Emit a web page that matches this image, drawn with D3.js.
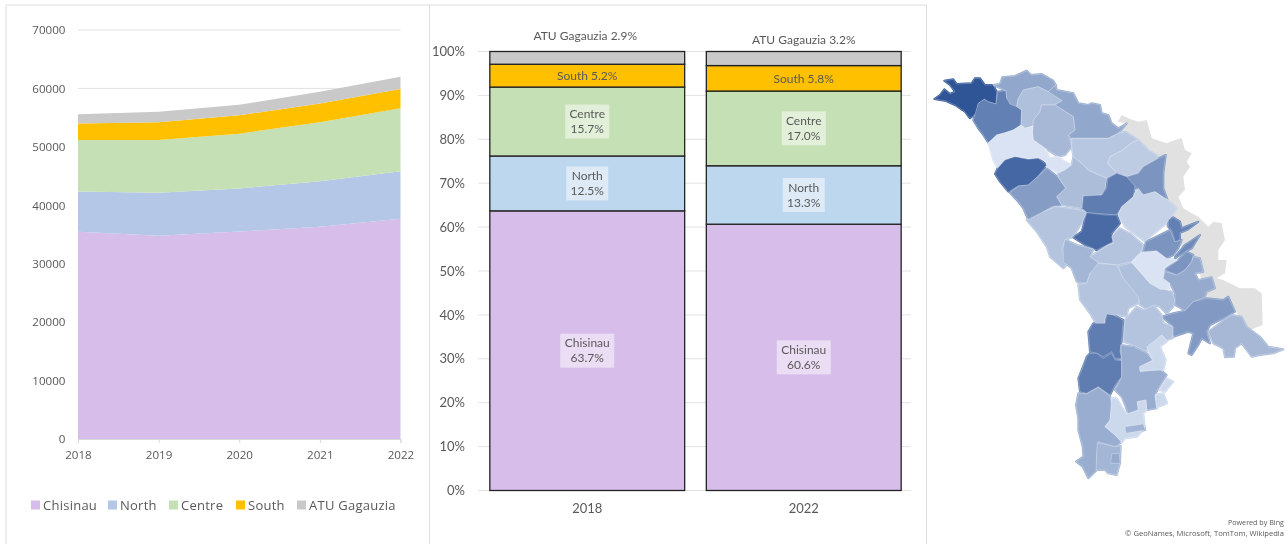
<!DOCTYPE html>
<html>
<head>
<meta charset="utf-8">
<script src="https://d3js.org/d3.v7.min.js"></script>
<style>
    html, body { margin: 0; padding: 0; background: #fff; overflow: hidden; }
    svg { display: block; filter: blur(0.45px); }
    text { fill: #595959; }
</style>
</head>
<body>
<div id="chart"></div>
<script>
var svgWidth = 1287;
var svgHeight = 544;

// area chart values
var years = [2018, 2019, 2020, 2021, 2022];
var regions = ["Chisinau", "North", "Centre", "South", "ATU Gagauzia"];
var chisinau = [35450, 34800, 35500, 36340, 37700];
var north = [6890, 7360, 7370, 7780, 8140];
var centre = [8850, 9030, 9390, 10100, 10750];
var south = [2790, 3030, 3140, 3200, 3330];
var gagauzia = [1600, 1780, 1790, 2020, 2080];
var areaTicks = [0, 10000, 20000, 30000, 40000, 50000, 60000, 70000];

// share chart values
var shareYears = ["2018", "2022"];
var share2018 = [63.7, 12.5, 15.7, 5.2, 2.9];
var share2022 = [60.6, 13.3, 17.0, 5.8, 3.2];
var shareTicks = [0, 10, 20, 30, 40, 50, 60, 70, 80, 90, 100];

var areaColors = ["#D7BDE9", "#B4C7E7", "#C5E0B4", "#FFC000", "#C9C9C9"];
var barColors = ["#D7BDE9", "#BDD7EE", "#C5E0B4", "#FFC000", "#C9C9C9"];

// map outlines, one entry per district, with a shade from 0 to 1
var mapOutlines = [
    [[934.3,99],[940,95],[944.3,89.3],[950,94],[955,91.7],[950,85],[944.3,80.7],[953.3,79.3],[956.7,84],[971.7,83.3],[975,78.3],[980,78.3],[985,85],[993.3,85],[996.7,91.7],[996,104],[988.3,101.7],[984.3,99.3],[978.3,103.3],[976.7,113.3],[970,118.3],[965,111.7],[955,105],[945,100.7]],
    [[973.3,120],[978.3,103.3],[984.3,99.3],[988.3,101.7],[996,104],[997.7,91.7],[1006,90.7],[1006.7,98.3],[1021.7,110],[1021,125],[1013.3,130],[1005,132.7],[996.7,135],[988.3,142.7],[983.3,135],[978.3,128.3]],
    [[993.3,85],[1000,84],[1002.3,77.3],[1015,76],[1026.7,70.7],[1031,75],[1041.7,74],[1053.3,80.7],[1055.7,85],[1048.3,91.7],[1038.3,86.7],[1023.3,90],[1018.3,98.3],[1016.7,106.7],[1010,104],[1006.7,98.3],[1006,90.7]],
    [[1018.3,98.3],[1023.3,90],[1038.3,86.7],[1048.3,91.7],[1062.3,100.7],[1053.3,105],[1041.7,105],[1040,111.7],[1033.3,120],[1033.3,126],[1025,128.3],[1021,125],[1021.7,110],[1016.7,106.7]],
    [[1048.3,91.7],[1055.7,85],[1056.7,90],[1073.3,93.3],[1078.3,103.3],[1088.3,105],[1091.7,103.3],[1100,105],[1101.7,113.3],[1108.3,115],[1111.7,123.3],[1118.3,128.3],[1126.7,123.3],[1118.3,133.3],[1108.3,138.3],[1071.7,138.3],[1068.3,135],[1075,130],[1073.3,116.7],[1055,105],[1062.3,100.7]],
    [[1041.7,105],[1055,105],[1073.3,116.7],[1075,130],[1068.3,135],[1071.7,146.7],[1065,155],[1058.3,156.7],[1045,148.3],[1033.3,140],[1032.3,131.7],[1033.3,120],[1040,111.7]],
    [[988.3,143.3],[996.7,135],[1005,132.7],[1013.3,130],[1021,125],[1025,128.3],[1033.3,126],[1032.3,131.7],[1033.3,140],[1045,148.3],[1050,158.3],[1058.3,156.7],[1065,161.7],[1071.7,165],[1065,170],[1058.3,173.3],[1053.3,170],[1045,166.7],[1046.7,161.7],[1038.3,158.3],[1028.3,159.3],[1015,156.7],[1005,160],[997.7,168.3],[993.3,160]],
    [[995,174],[997.7,168.3],[1005,160],[1015,156.7],[1028.3,159.3],[1038.3,158.3],[1046.7,165],[1038.3,176],[1028.3,185],[1018.3,186],[1008.3,191.7],[1000,181.7]],
    [[1010,192.7],[1018.3,186],[1028.3,185],[1038.3,176],[1046.7,168.3],[1058.3,177.3],[1065.7,188.3],[1056.7,196.7],[1061.7,205],[1051.7,206.7],[1041.7,212.7],[1028.3,220],[1023.3,208.3],[1018.3,201.7]],
    [[1058.3,173.3],[1065,170],[1071.7,165],[1073.3,156.7],[1081.7,163.3],[1088.3,170],[1106.7,178.3],[1105,188.3],[1101.7,195],[1083.3,196],[1081.7,208.3],[1061.7,205],[1056.7,196.7],[1065.7,188.3],[1058.3,177.3]],
    [[1071.7,138.3],[1108.3,138.3],[1118.3,133.3],[1125,131.7],[1138.3,140],[1133.3,141.7],[1121.7,150.7],[1110,156.7],[1107.7,163.3],[1116.7,173.3],[1106.7,178.3],[1088.3,170],[1081.7,163.3],[1073.3,156.7],[1071.7,146.7]],
    [[1110,156.7],[1121.7,150.7],[1133.3,141.7],[1138.3,140],[1148.3,150],[1156.7,155],[1158.3,158.3],[1143.3,166.7],[1138.3,173.3],[1126.7,176.7],[1117.7,173.3],[1107.7,163.3]],
    [[1126.7,176.7],[1138.3,173.3],[1143.3,166.7],[1158.3,158.3],[1165.7,155],[1163.3,173.3],[1163.3,188.3],[1167.7,200],[1155,191.7],[1143.3,195],[1133.3,185]],
    [[1083.3,196],[1101.7,195],[1106.7,188.3],[1107.7,178.3],[1116.7,173.3],[1126.7,176.7],[1135,186],[1133.3,196.7],[1121.7,206.7],[1116.7,215],[1105,214],[1086.7,212.7],[1082.3,208.3]],
    [[1118.3,215],[1121.7,206.7],[1133.3,196.7],[1138.3,188.3],[1143.3,195],[1155,191.7],[1167.7,200],[1176.7,208.3],[1166.7,223.3],[1158.3,230],[1150,236.7],[1145,241.7],[1138.3,236.7],[1125,226.7]],
    [[1026.7,220],[1041.7,212.7],[1055,206.7],[1081.7,210],[1086.7,212.7],[1081.7,223.3],[1073.3,236.7],[1065,240],[1061.7,250],[1068.3,263.3],[1063.3,268.3],[1050,256.7],[1046.7,246.7],[1036.7,231.7]],
    [[1073.3,237.3],[1081.7,231.7],[1086.7,212.7],[1105,215],[1116.7,215],[1120,223.3],[1111.7,233.3],[1113.3,241.7],[1096.7,250],[1085,245]],
    [[1090,256.7],[1108.3,245],[1113.3,243.3],[1111.7,236.7],[1120,228.3],[1130,233.3],[1143.3,245],[1141.7,250],[1131.7,261.7],[1116.7,265],[1098.3,262.7]],
    [[1063.3,248.3],[1065,239.3],[1076.7,245],[1093.3,249.3],[1090,256.7],[1098.3,262.7],[1096.7,271.7],[1090,273.3],[1086.7,283.3],[1076.7,281.7],[1071.7,268.3],[1063.3,261.7]],
    [[1078.3,284.3],[1086.7,283.3],[1090,273.3],[1098.3,263.3],[1116.7,265],[1123.3,278.3],[1140,296.7],[1138.3,303.3],[1128.3,308.3],[1126.7,316.7],[1116.7,315],[1105,318.3],[1105,325],[1096.7,325],[1090,313.3],[1080,300]],
    [[1118.3,266.7],[1131.7,262.7],[1150,283.3],[1171.7,291.7],[1175,300],[1173.3,306.7],[1166.7,314],[1160,306.7],[1153.3,305],[1150.7,311.7],[1140,305],[1138.3,296.7],[1123.3,278.3]],
    [[1131.7,261.7],[1143.3,251.7],[1156.7,250.7],[1166.7,258.3],[1178.3,260],[1165,267.3],[1163.3,278.3],[1170,283.3],[1169.3,290],[1160,289.3],[1150,283.3]],
    [[1143.3,251.7],[1146,241.7],[1160,235],[1170,230],[1175,241.7],[1181.7,240],[1178.3,248.3],[1173.3,255],[1166.7,258.3],[1156.7,250.7]],
    [[1168.3,220],[1173.3,217.3],[1180,221.7],[1181.7,228.3],[1198.3,221.7],[1188.3,229.3],[1180,232.7],[1180,240],[1175,241.7],[1171.7,230],[1168.3,226.7]],
    [[1175,256.7],[1185,245],[1200,235],[1191.7,248.3],[1185,251.7],[1175,258.3]],
    [[1168.3,267.3],[1178.3,260],[1186.7,251.7],[1193.3,255],[1191.7,261.7],[1185,270],[1176.7,275],[1165,270]],
    [[1165,271.7],[1176.7,275],[1185,270],[1191.7,261.7],[1193.3,256.7],[1200,258.3],[1203.3,271.7],[1195,273.3],[1198.3,280],[1211.7,277.3],[1215,288.3],[1206.7,291.7],[1205,297.3],[1193.3,301.7],[1185,310.7],[1175,305],[1175,293.3],[1170,283.3],[1163.3,278.3]],
    [[1161.7,316.7],[1173.3,313.3],[1185,310.7],[1193.3,301.7],[1206.7,298.3],[1223.3,300],[1228.3,296.7],[1235,311.7],[1223.3,318.3],[1210,325],[1206.7,331.7],[1210,343.3],[1201.7,338.3],[1198.3,345],[1191.7,355],[1188.3,353.3],[1193.3,333.3],[1188.3,331.7],[1173.3,336.7],[1171.7,325]],
    [[1208.3,331.7],[1221.7,321.7],[1231.7,315],[1241.7,316.7],[1246.7,326.7],[1260,336.7],[1268.3,346.7],[1283.3,349.3],[1273.3,353.3],[1260,355],[1251.7,356.7],[1241.7,343.3],[1235,348.3],[1234,356.7],[1225,357.3],[1223.3,348.3],[1213.3,343.3]],
    [[1123.3,341.7],[1125,320],[1136.7,306.7],[1143.3,310],[1153.3,305],[1161.7,315],[1163.3,323.3],[1173.3,326.7],[1172.7,338.3],[1166.7,340],[1161.7,335],[1148.3,346.7],[1146.7,351.7],[1133.3,345]],
    [[1090,351.7],[1088.3,331.7],[1093.3,323.3],[1105,323.3],[1106.7,314],[1113.3,315],[1123.3,320],[1121.7,340],[1120,351.7],[1121.7,358.3],[1115,358.3],[1111.7,351.7],[1103.3,356.7],[1096.7,353.3]],
    [[1078.3,378.3],[1081.7,370],[1086.7,356.7],[1090,353.3],[1096.7,353.3],[1103.3,358.3],[1111.7,353.3],[1115,360],[1121.7,360.7],[1121.7,376.7],[1115,385],[1110,395],[1098.3,386.7],[1086.7,393.3],[1080,391.7]],
    [[1120.7,345],[1133.3,346.7],[1146.7,353.3],[1152.7,360],[1140,366.7],[1140,371.7],[1160,369.3],[1166.7,375],[1158.3,388.3],[1155,395],[1156.7,408.3],[1146.7,410],[1146,400],[1137.3,401.7],[1138.3,410],[1128.3,414],[1125,405],[1121.7,396.7],[1115,390],[1121.7,377.3],[1121.7,360]],
    [[1146.7,346.7],[1161.7,335],[1166.7,341.7],[1160,346.7],[1165.7,360],[1163.3,370],[1140,371],[1139.3,366.7],[1152.7,360.7]],
    [[1160,390],[1166.7,378.3],[1173.3,381.7],[1165,391.7]],
    [[1155,395],[1163.3,393.3],[1167.3,403.3],[1156.7,407.7]],
    [[1076,405],[1078.3,393.3],[1086.7,394],[1098.3,387.3],[1110,396],[1111.7,405],[1110,420],[1105,426.7],[1115,435],[1121.7,441.7],[1115,446.7],[1098.3,441.7],[1096.7,453.3],[1096.7,470],[1088.3,478.3],[1082.7,466.7],[1076,461.7],[1083.3,456.7],[1082.7,446.7],[1078.3,430],[1078.3,418.3]],
    [[1110,420],[1111.7,398.3],[1116.7,398.3],[1121.7,406.7],[1126.7,414],[1138.3,410],[1137.3,401.7],[1146,400],[1146.7,410],[1143.3,413.3],[1145,428.3],[1136.7,436.7],[1125,438.3],[1121.7,442.7],[1115,435],[1105,426.7]],
    [[1125,426.7],[1143.3,424],[1145.3,430],[1126,433.3]],
    [[1097.3,442.7],[1115,446.7],[1120.7,446],[1120,463.3],[1116.7,475],[1108.3,473.3],[1105,470],[1096,470]],
    [[1111.7,454],[1119.3,453.3],[1120,463.3],[1110.7,463.3]]
];
var mapShades = [1, .7, .42, .25, .42, .3, 0, .87, .5, .27, .2, .17, .55, .72, .12, .22, .85, .22, .32, .22, .25, 0, .55, .7, .62, .55, .4, .52, .3, .22, .72, .72, .38, .08, .08, .08, .38, .08, .33, .32, .4];
var noDataOutline = [[1117.7,121.7],[1121.7,115],[1128.3,118.3],[1138.3,121.7],[1146.7,120],[1151.7,138.3],[1166.7,143.3],[1175,140],[1181.7,138.3],[1185,150],[1191.7,153.3],[1186.7,161.7],[1190,166.7],[1183.3,176.7],[1185,190],[1178.3,196.7],[1183.3,208.3],[1191.7,213.3],[1198.3,216.7],[1208.3,226.7],[1213.3,221.7],[1221.7,223.3],[1225,240],[1218.3,250],[1218.3,260],[1226.7,260],[1225,273.3],[1216.7,278.3],[1223.3,280],[1240,288.3],[1255,288.3],[1261.7,293.3],[1262.7,325],[1250,330],[1241.7,321.7],[1235,310],[1228.3,296.7],[1223.3,300],[1206.7,297.3],[1205,285],[1195,265],[1180,245],[1165,225],[1160,205],[1155,190],[1155,165],[1150,150],[1138.3,140],[1125,131.7],[1118.3,133.3],[1126.7,123.3]];

var svg = d3.select("#chart")
    .append("svg")
    .attr("width", svgWidth)
    .attr("height", svgHeight);

svg.append("rect")
    .attr("width", svgWidth)
    .attr("height", svgHeight)
    .attr("fill", "#fff");

// panel borders
var panelLines = [[6, 5, 927, 5], [6, 5, 6, 544], [429.5, 5, 429.5, 544], [926.5, 5, 926.5, 544]];
svg.selectAll(".panelLine")
    .data(panelLines)
    .join("line")
    .attr("class", "panelLine")
    .attr("x1", d => d[0])
    .attr("y1", d => d[1])
    .attr("x2", d => d[2])
    .attr("y2", d => d[3])
    .attr("stroke", "#DEDEDE")
    .attr("stroke-width", 1);

renderArea();
renderBars();
renderMap();

function renderArea() {
    var rows = years.map(function (y, i) {
        return { year: y, Chisinau: chisinau[i], North: north[i], Centre: centre[i], South: south[i], "ATU Gagauzia": gagauzia[i] };
    });

    var xScale = d3.scaleLinear().domain([2018, 2022]).range([78, 400.5]);
    var yScale = d3.scaleLinear().domain([0, 70000]).range([439, 30]);

    var g = svg.append("g");

    // gridlines sit behind the areas
    g.selectAll(".grid")
        .data(areaTicks)
        .join("line")
        .attr("x1", xScale.range()[0])
        .attr("x2", xScale.range()[1])
        .attr("y1", d => yScale(d))
        .attr("y2", d => yScale(d))
        .attr("stroke", "#E2E2E2");

    var series = d3.stack().keys(regions)(rows);
    var area = d3.area()
        .x(d => xScale(d.data.year))
        .y0(d => yScale(d[0]))
        .y1(d => yScale(d[1]));

    g.selectAll(".band")
        .data(series)
        .join("path")
        .attr("d", area)
        .attr("fill", (d, i) => areaColors[i]);

    var leftAxis = d3.axisLeft(yScale).tickValues(areaTicks).tickFormat(d3.format("d")).tickSize(0).tickPadding(12.5);
    var bottomAxis = d3.axisBottom(xScale).tickValues(years).tickFormat(d3.format("d")).tickSize(4).tickPadding(7.4);

    var yAxis = g.append("g").attr("transform", "translate(78,0)").call(leftAxis);
    yAxis.select(".domain").remove();

    var xAxis = g.append("g").attr("transform", "translate(0,439)").call(bottomAxis);
    xAxis.select(".domain").attr("stroke", "#D9D9D9");
    xAxis.selectAll("line").attr("stroke", "#D9D9D9");

    g.selectAll(".tick text")
        .style("font-family", "'Open Sans'")
        .style("font-size", "11.6px")
        .style("fill", "#595959");

    // legend
    var legendX = [31, 108, 169, 236, 297];
    var legend = g.selectAll(".legendItem")
        .data(regions)
        .join("g")
        .attr("transform", (d, i) => `translate(${legendX[i]},505)`);

    legend.append("rect")
        .attr("y", -4.5)
        .attr("width", 9)
        .attr("height", 9)
        .attr("fill", (d, i) => areaColors[i]);

    legend.append("text")
        .attr("x", 12)
        .attr("dy", "0.35em")
        .style("font-family", "'Open Sans'")
        .style("font-size", "13px")
        .style("letter-spacing", "0.25px")
        .text(d => d);
}

function renderBars() {
    var rows = shareYears.map(function (y, i) {
        var row = { year: y };
        regions.forEach(function (r, j) {
            row[r] = (i == 0 ? share2018 : share2022)[j];
        });
        return row;
    });

    var xScale = d3.scaleBand().domain(shareYears).range([479, 912]).paddingInner(0.1).paddingOuter(0.05);
    var yScale = d3.scaleLinear().domain([0, 100]).range([490.5, 51.5]);

    var g = svg.append("g")
        .style("font-family", "Lato")
        .style("font-size", "12px");

    g.selectAll(".grid")
        .data(shareTicks)
        .join("line")
        .attr("x1", 478)
        .attr("x2", 911)
        .attr("y1", d => yScale(d))
        .attr("y2", d => yScale(d))
        .attr("stroke", "#E2E2E2");

    var yAxis = g.append("g")
        .attr("transform", "translate(478,0)")
        .call(d3.axisLeft(yScale).tickValues(shareTicks).tickFormat(d => d + "%").tickSize(0).tickPadding(13));
    yAxis.select(".domain").remove();

    var xAxis = g.append("g")
        .attr("transform", "translate(0,490.5)")
        .call(d3.axisBottom(xScale).tickSize(0).tickPadding(12.8));
    xAxis.select(".domain").remove();

    g.selectAll(".tick text")
        .style("font-family", "Lato")
        .style("font-size", "13px")
        .style("fill", "#595959");

    var series = d3.stack().keys(regions).offset(d3.stackOffsetExpand)(rows);
    var pct = d3.scaleLinear().domain([0, 1]).range([0, 100]);

    var groups = g.selectAll(".bars")
        .data(series)
        .join("g");

    groups.selectAll("rect")
        .data(d => d)
        .join("rect")
        .attr("x", d => xScale(d.data.year))
        .attr("width", xScale.bandwidth())
        .attr("y", d => yScale(pct(d[1])))
        .attr("height", d => yScale(pct(d[0])) - yScale(pct(d[1])))
        .attr("fill", function () { return barColors[series.indexOf(d3.select(this.parentNode).datum())]; })
        .attr("stroke", "#222")
        .attr("stroke-width", 1.3);

    // labels
    series.forEach(function (s, i) {
        s.forEach(function (d) {
            var value = d.data[regions[i]].toFixed(1) + "%";
            var cx = xScale(d.data.year) + xScale.bandwidth() / 2;
            var cy = yScale(pct((d[0] + d[1]) / 2));

            if (regions[i] == "ATU Gagauzia") {
                g.append("text")
                    .attr("x", d.data.year == "2018" ? cx - 2 : cx)
                    .attr("y", d.data.year == "2018" ? 36 : 39.5)
                    .attr("dy", "0.35em")
                    .attr("text-anchor", "middle")
                    .text(regions[i] + " " + value);
            } else if (regions[i] == "South") {
                g.append("text")
                    .attr("x", cx)
                    .attr("y", cy)
                    .attr("dy", "0.35em")
                    .attr("text-anchor", "middle")
                    .text(regions[i] + " " + value);
            } else {
                var boxW = regions[i] == "Chisinau" ? 54 : (regions[i] == "Centre" ? 44 : 42);
                g.append("rect")
                    .attr("x", cx - boxW / 2)
                    .attr("y", cy - 17)
                    .attr("width", boxW)
                    .attr("height", 34)
                    .attr("fill", "#fff")
                    .attr("fill-opacity", 0.5);
                g.append("text")
                    .attr("x", cx)
                    .attr("y", cy - 7.5)
                    .attr("dy", "0.35em")
                    .attr("text-anchor", "middle")
                    .text(regions[i]);
                g.append("text")
                    .attr("x", cx)
                    .attr("y", cy + 7.5)
                    .attr("dy", "0.35em")
                    .attr("text-anchor", "middle")
                    .text(value);
            }
        });
    });
}

function renderMap() {
    var shade = d3.scaleLinear().domain([0, 1]).range(["#DAE3F3", "#2F5597"]);
    var path = d3.geoPath(d3.geoIdentity());
    var toFeature = function (ring) {
        return { type: "Feature", geometry: { type: "Polygon", coordinates: [ring.concat([ring[0]])] } };
    };

    var g = svg.append("g").style("filter", "blur(0.35px)");

    g.append("path")
        .datum(toFeature(noDataOutline))
        .attr("d", path)
        .attr("fill", "#E1E1E1");

    // same colour stroke underneath closes the slivers between traced outlines
    g.selectAll(".districtBase")
        .data(mapOutlines)
        .join("path")
        .attr("class", "districtBase")
        .attr("d", d => path(toFeature(d)))
        .attr("fill", (d, i) => shade(mapShades[i]))
        .attr("stroke", (d, i) => shade(mapShades[i]))
        .attr("stroke-width", 2)
        .attr("stroke-linejoin", "round");

    g.selectAll(".district")
        .data(mapOutlines)
        .join("path")
        .attr("class", "district")
        .attr("d", d => path(toFeature(d)))
        .attr("fill", (d, i) => shade(mapShades[i]))
        .attr("stroke", "#fff")
        .attr("stroke-opacity", 0.45)
        .attr("stroke-width", 0.6)
        .attr("stroke-linejoin", "round");

    svg.append("text")
        .attr("x", 1284)
        .attr("y", 525)
        .attr("text-anchor", "end")
        .style("font-family", "'Open Sans'")
        .style("font-size", "7.2px")
        .text("Powered by Bing");

    svg.append("text")
        .attr("x", 1284)
        .attr("y", 536)
        .attr("text-anchor", "end")
        .style("font-family", "'Open Sans'")
        .style("font-size", "7.6px")
        .text("© GeoNames, Microsoft, TomTom, Wikipedia");
}
</script>
</body>
</html>
